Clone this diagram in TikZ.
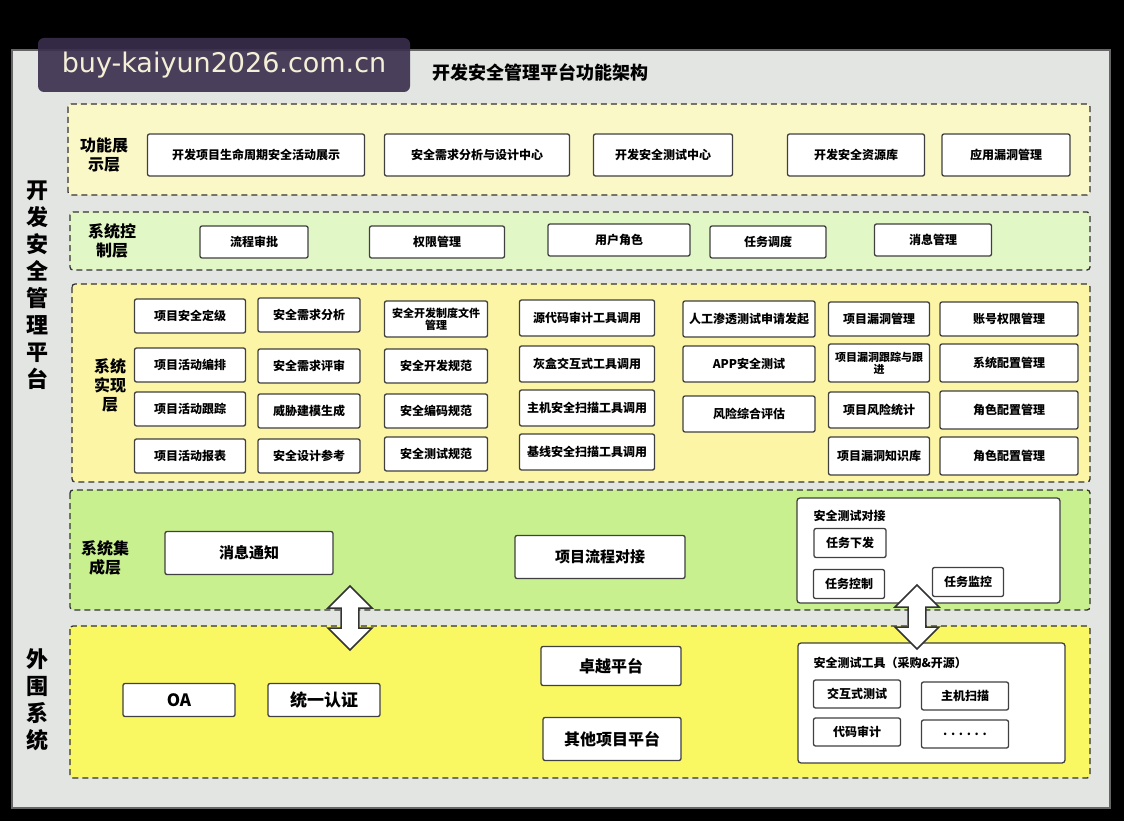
\documentclass[tikz,border=0pt]{standalone}
\usepackage{fontspec}
\setmainfont{Noto Sans CJK SC}
\newfontfamily\wmfont{DejaVu Sans}
\usetikzlibrary{shapes.arrows}
\definecolor{panelgray}{HTML}{E3E5E3}
\definecolor{showyel}{HTML}{FBF8C8}
\definecolor{ctrlgrn}{HTML}{E2F7C6}
\definecolor{implyel}{HTML}{FCF5A6}
\definecolor{intgrn}{HTML}{C9F08E}
\definecolor{extyel}{HTML}{FAF862}
\definecolor{wmbg}{HTML}{3A2E4C}
\definecolor{wmtext}{HTML}{F4F0D8}
\tikzstyle{layer} = [draw=black!80, dash pattern=on 6pt off 4pt, line width=1.3pt, rounded corners=3pt]
\tikzstyle{cell} = [rectangle, draw=black!75, fill=white, line width=1.3pt,
    rounded corners=2pt, align=center, inner sep=1pt, font=\fontsize{12}{13}\selectfont\bfseries]
\tikzstyle{tag} = [align=center, font=\fontsize{16}{19}\selectfont\bfseries]
\tikzstyle{side} = [align=center, font=\fontsize{22}{27}\selectfont\bfseries]
\tikzstyle{frame} = [draw=black!75, fill=white, line width=1.3pt, rounded corners=3pt]
\tikzstyle{link} = [double arrow, draw=black!80, fill=white, line width=1.5pt,
    rotate=90, minimum height=64pt, minimum width=44pt, double arrow head extend=10pt, inner sep=6pt]
\begin{document}
\begin{tikzpicture}[x=1pt, y=-1pt]
        \useasboundingbox (0,0) rectangle (1124,821);
        \fill[black] (0,0) rectangle (1124,821);
        \fill[panelgray] (12,50) rectangle (1110,808);
        \draw[black!60, line width=2pt] (12,50) rectangle (1110,808);

        % Layer frames
        \path[layer, fill=showyel] (68,104) rectangle (1090,195);
        \path[layer, fill=ctrlgrn] (70,212) rectangle (1090,270);
        \path[layer, fill=implyel] (72,284) rectangle (1090,482);
        \path[layer, fill=intgrn] (70,490) rectangle (1090,610);
        \path[layer, fill=extyel] (70,626) rectangle (1090,778);

        % Title and side labels
        \node[font=\fontsize{18}{20}\selectfont\bfseries] (title) at (540,73) {开发安全管理平台功能架构};
        \node[side] (plat) at (38,285) {开\\发\\安\\全\\管\\理\\平\\台};
        \node[side] (ext) at (38,700) {外\\围\\系\\统};

        % 1. Display layer
        \node[tag] (showt) at (104,155) {功能展\\示层};
        \node[cell, minimum width=217pt, minimum height=42pt] (life) at (256,155) {开发项目生命周期安全活动展示};
        \node[cell, minimum width=185pt, minimum height=42pt] (reqc) at (477,155) {安全需求分析与设计中心};
        \node[cell, minimum width=139pt, minimum height=42pt] (testc) at (663,155) {开发安全测试中心};
        \node[cell, minimum width=137pt, minimum height=42pt] (res) at (856,155) {开发安全资源库};
        \node[cell, minimum width=128pt, minimum height=42pt] (vuln) at (1006,155) {应用漏洞管理};

        % 2. Control layer
        \node[tag] (ctrlt) at (112,241) {系统控\\制层};
        \node[cell, minimum width=108pt, minimum height=32pt] (flow) at (254,242) {流程审批};
        \node[cell, minimum width=135pt, minimum height=32pt] (perm) at (437,242) {权限管理};
        \node[cell, minimum width=142pt, minimum height=32pt] (role) at (619,240) {用户角色};
        \node[cell, minimum width=116pt, minimum height=32pt] (sched) at (768,242) {任务调度};
        \node[cell, minimum width=117pt, minimum height=32pt] (msg) at (933,240) {消息管理};

        % 3. Implementation layer
        \node[tag] (implt) at (110,385) {系统\\实现\\层};
        \node[cell, minimum width=111pt, minimum height=34pt] (a1) at (190,316) {项目安全定级};
        \node[cell, minimum width=111pt, minimum height=34pt] (a2) at (190,365) {项目活动编排};
        \node[cell, minimum width=111pt, minimum height=34pt] (a3) at (190,409) {项目活动跟踪};
        \node[cell, minimum width=111pt, minimum height=34pt] (a4) at (190,456) {项目活动报表};
        \node[cell, minimum width=102pt, minimum height=34pt] (b1) at (309,315) {安全需求分析};
        \node[cell, minimum width=102pt, minimum height=34pt] (b2) at (309,366) {安全需求评审};
        \node[cell, minimum width=102pt, minimum height=34pt] (b3) at (309,411) {威胁建模生成};
        \node[cell, minimum width=102pt, minimum height=34pt] (b4) at (309,456) {安全设计参考};
        \node[cell, minimum width=103pt, minimum height=36pt, font=\fontsize{11}{12}\selectfont\bfseries] (c1) at (436,319) {安全开发制度文件\\管理};
        \node[cell, minimum width=103pt, minimum height=34pt] (c2) at (436,366) {安全开发规范};
        \node[cell, minimum width=103pt, minimum height=34pt] (c3) at (436,411) {安全编码规范};
        \node[cell, minimum width=103pt, minimum height=34pt] (c4) at (436,454) {安全测试规范};
        \node[cell, minimum width=135pt, minimum height=36pt] (d1) at (587,318) {源代码审计工具调用};
        \node[cell, minimum width=135pt, minimum height=36pt] (d2) at (587,364) {灰盒交互式工具调用};
        \node[cell, minimum width=135pt, minimum height=36pt] (d3) at (587,408) {主机安全扫描工具调用};
        \node[cell, minimum width=135pt, minimum height=36pt] (d4) at (587,452) {基线安全扫描工具调用};
        \node[cell, minimum width=132pt, minimum height=36pt] (e1) at (749,319) {人工渗透测试申请发起};
        \node[cell, minimum width=132pt, minimum height=36pt] (e2) at (749,364) {APP安全测试};
        \node[cell, minimum width=132pt, minimum height=36pt] (e3) at (749,414) {风险综合评估};
        \node[cell, minimum width=101pt, minimum height=34pt] (f1) at (879,319) {项目漏洞管理};
        \node[cell, minimum width=101pt, minimum height=38pt, font=\fontsize{11}{12}\selectfont\bfseries] (f2) at (879,363) {项目漏洞跟踪与跟\\进};
        \node[cell, minimum width=101pt, minimum height=36pt] (f3) at (879,410) {项目风险统计};
        \node[cell, minimum width=101pt, minimum height=38pt] (f4) at (879,456) {项目漏洞知识库};
        \node[cell, minimum width=138pt, minimum height=34pt] (g1) at (1009,319) {账号权限管理};
        \node[cell, minimum width=138pt, minimum height=38pt] (g2) at (1009,363) {系统配置管理};
        \node[cell, minimum width=138pt, minimum height=38pt] (g3) at (1009,410) {角色配置管理};
        \node[cell, minimum width=138pt, minimum height=38pt] (g4) at (1009,456) {角色配置管理};

        % 4. Integration layer
        \node[tag] (intt) at (105,558) {系统集\\成层};
        \node[cell, minimum width=168pt, minimum height=43pt, font=\fontsize{15}{17}\selectfont\bfseries] (notice) at (249,553) {消息通知};
        \node[cell, minimum width=170pt, minimum height=43pt, font=\fontsize{15}{17}\selectfont\bfseries] (proj) at (600,557) {项目流程对接};
        \path[frame] (797,498) rectangle (1060,603);
        \node[anchor=west, font=\fontsize{12}{13}\selectfont\bfseries] (dockt) at (810,516) {安全测试对接};
        \node[cell, minimum width=72pt, minimum height=29pt] (issue) at (850,543) {任务下发};
        \node[cell, minimum width=71pt, minimum height=29pt] (tctrl) at (849,584) {任务控制};
        \node[cell, minimum width=71pt, minimum height=29pt] (tmon) at (968,582) {任务监控};

        % 5. External systems
        \node[cell, minimum width=112pt, minimum height=33pt, font=\fontsize{17}{19}\selectfont\bfseries] (oa) at (179,700) {OA};
        \node[cell, minimum width=112pt, minimum height=33pt, font=\fontsize{17}{19}\selectfont\bfseries] (auth) at (324,700) {统一认证};
        \node[cell, minimum width=140pt, minimum height=39pt, font=\fontsize{16}{18}\selectfont\bfseries] (zy) at (611,666) {卓越平台};
        \node[cell, minimum width=138pt, minimum height=43pt, font=\fontsize{16}{18}\selectfont\bfseries] (other) at (612,739) {其他项目平台};
        \path[frame] (798,643) rectangle (1065,763);
        \node[anchor=west, font=\fontsize{12}{13}\selectfont\bfseries] (toolt) at (810,663) {安全测试工具（采购\&开源）};
        \node[cell, minimum width=87pt, minimum height=28pt] (iast) at (857,694) {交互式测试};
        \node[cell, minimum width=87pt, minimum height=28pt] (host) at (965,696) {主机扫描};
        \node[cell, minimum width=87pt, minimum height=28pt] (code) at (857,732) {代码审计};
        \node[cell, minimum width=87pt, minimum height=28pt] (more) at (965,734) {. . . . . .};

        % Double arrows between layers
        \node[link] (up1) at (350,618) {};
        \node[link] (up2) at (917,617) {};

        % Watermark
        \node[fill=wmbg, fill opacity=0.9, text opacity=1, text=wmtext, rounded corners=6pt,
              minimum width=372pt, minimum height=54pt, font=\wmfont\fontsize{27}{30}\selectfont] (wm) at (224,65) {buy-kaiyun2026.com.cn};
\end{tikzpicture}
\end{document}
